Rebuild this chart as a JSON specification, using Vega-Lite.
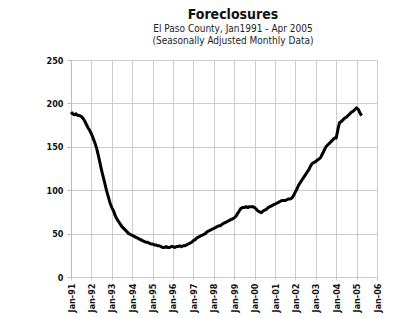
{
  "$schema": "https://vega.github.io/schema/vega-lite/v6.json",
  "autosize": "none",
  "width": 306,
  "height": 217,
  "padding": {"left": 71, "top": 60, "right": 16, "bottom": 41},
  "background": "white",
  "title": {
    "text": "Foreclosures",
    "subtitle": ["El Paso County, Jan1991 - Apr 2005", "(Seasonally Adjusted Monthly Data)"],
    "font": "'DejaVu Sans Condensed', 'Liberation Sans Narrow', sans-serif",
    "fontSize": 14,
    "fontWeight": "bold",
    "color": "#111",
    "subtitleFont": "'DejaVu Sans Condensed', 'Liberation Sans Narrow', sans-serif",
    "subtitleFontSize": 10,
    "subtitleColor": "#222",
    "subtitlePadding": 2,
    "subtitleLineHeight": 12,
    "anchor": "middle",
    "frame": "group",
    "dx": 9,
    "offset": 10
  },
  "data": {
    "values": [
      {"d":"1991-01-01","v":190},{"d":"1991-02-01","v":188},{"d":"1991-03-01","v":187},{"d":"1991-04-01","v":188},{"d":"1991-05-01","v":186},{"d":"1991-06-01","v":186},{"d":"1991-07-01","v":185},{"d":"1991-08-01","v":183},{"d":"1991-09-01","v":180},{"d":"1991-10-01","v":176},{"d":"1991-11-01","v":172},{"d":"1991-12-01","v":169},
      {"d":"1992-01-01","v":165},{"d":"1992-02-01","v":160},{"d":"1992-03-01","v":155},{"d":"1992-04-01","v":149},{"d":"1992-05-01","v":141},{"d":"1992-06-01","v":132},{"d":"1992-07-01","v":123},{"d":"1992-08-01","v":115},{"d":"1992-09-01","v":107},{"d":"1992-10-01","v":99},{"d":"1992-11-01","v":92},{"d":"1992-12-01","v":85},
      {"d":"1993-01-01","v":80},{"d":"1993-02-01","v":76},{"d":"1993-03-01","v":71},{"d":"1993-04-01","v":67},{"d":"1993-05-01","v":64},{"d":"1993-06-01","v":61},{"d":"1993-07-01","v":58},{"d":"1993-08-01","v":56},{"d":"1993-09-01","v":54},{"d":"1993-10-01","v":52},{"d":"1993-11-01","v":50},{"d":"1993-12-01","v":49},
      {"d":"1994-01-01","v":48},{"d":"1994-02-01","v":47},{"d":"1994-03-01","v":46},{"d":"1994-04-01","v":45},{"d":"1994-05-01","v":44},{"d":"1994-06-01","v":43},{"d":"1994-07-01","v":42},{"d":"1994-08-01","v":41},{"d":"1994-09-01","v":40},{"d":"1994-10-01","v":40},{"d":"1994-11-01","v":39},{"d":"1994-12-01","v":38},
      {"d":"1995-01-01","v":38},{"d":"1995-02-01","v":37},{"d":"1995-03-01","v":37},{"d":"1995-04-01","v":36},{"d":"1995-05-01","v":36},{"d":"1995-06-01","v":35},{"d":"1995-07-01","v":34},{"d":"1995-08-01","v":34},{"d":"1995-09-01","v":35},{"d":"1995-10-01","v":34},{"d":"1995-11-01","v":34},{"d":"1995-12-01","v":35},
      {"d":"1996-01-01","v":35},{"d":"1996-02-01","v":34},{"d":"1996-03-01","v":35},{"d":"1996-04-01","v":35},{"d":"1996-05-01","v":36},{"d":"1996-06-01","v":35},{"d":"1996-07-01","v":36},{"d":"1996-08-01","v":36},{"d":"1996-09-01","v":37},{"d":"1996-10-01","v":38},{"d":"1996-11-01","v":39},{"d":"1996-12-01","v":40},
      {"d":"1997-01-01","v":42},{"d":"1997-02-01","v":43},{"d":"1997-03-01","v":45},{"d":"1997-04-01","v":46},{"d":"1997-05-01","v":47},{"d":"1997-06-01","v":48},{"d":"1997-07-01","v":49},{"d":"1997-08-01","v":50},{"d":"1997-09-01","v":52},{"d":"1997-10-01","v":53},{"d":"1997-11-01","v":54},{"d":"1997-12-01","v":55},
      {"d":"1998-01-01","v":56},{"d":"1998-02-01","v":57},{"d":"1998-03-01","v":58},{"d":"1998-04-01","v":59},{"d":"1998-05-01","v":59},{"d":"1998-06-01","v":61},{"d":"1998-07-01","v":62},{"d":"1998-08-01","v":63},{"d":"1998-09-01","v":64},{"d":"1998-10-01","v":65},{"d":"1998-11-01","v":66},{"d":"1998-12-01","v":67},
      {"d":"1999-01-01","v":68},{"d":"1999-02-01","v":70},{"d":"1999-03-01","v":73},{"d":"1999-04-01","v":76},{"d":"1999-05-01","v":79},{"d":"1999-06-01","v":80},{"d":"1999-07-01","v":80},{"d":"1999-08-01","v":81},{"d":"1999-09-01","v":80},{"d":"1999-10-01","v":81},{"d":"1999-11-01","v":81},{"d":"1999-12-01","v":81},
      {"d":"2000-01-01","v":80},{"d":"2000-02-01","v":78},{"d":"2000-03-01","v":76},{"d":"2000-04-01","v":75},{"d":"2000-05-01","v":74},{"d":"2000-06-01","v":76},{"d":"2000-07-01","v":77},{"d":"2000-08-01","v":78},{"d":"2000-09-01","v":80},{"d":"2000-10-01","v":81},{"d":"2000-11-01","v":82},{"d":"2000-12-01","v":83},
      {"d":"2001-01-01","v":84},{"d":"2001-02-01","v":85},{"d":"2001-03-01","v":86},{"d":"2001-04-01","v":87},{"d":"2001-05-01","v":88},{"d":"2001-06-01","v":88},{"d":"2001-07-01","v":88},{"d":"2001-08-01","v":89},{"d":"2001-09-01","v":90},{"d":"2001-10-01","v":90},{"d":"2001-11-01","v":91},{"d":"2001-12-01","v":94},
      {"d":"2002-01-01","v":98},{"d":"2002-02-01","v":102},{"d":"2002-03-01","v":106},{"d":"2002-04-01","v":109},{"d":"2002-05-01","v":112},{"d":"2002-06-01","v":115},{"d":"2002-07-01","v":118},{"d":"2002-08-01","v":121},{"d":"2002-09-01","v":124},{"d":"2002-10-01","v":128},{"d":"2002-11-01","v":131},{"d":"2002-12-01","v":132},
      {"d":"2003-01-01","v":133},{"d":"2003-02-01","v":135},{"d":"2003-03-01","v":136},{"d":"2003-04-01","v":138},{"d":"2003-05-01","v":142},{"d":"2003-06-01","v":146},{"d":"2003-07-01","v":150},{"d":"2003-08-01","v":152},{"d":"2003-09-01","v":154},{"d":"2003-10-01","v":156},{"d":"2003-11-01","v":158},{"d":"2003-12-01","v":160},
      {"d":"2004-01-01","v":160},{"d":"2004-02-01","v":170},{"d":"2004-03-01","v":178},{"d":"2004-04-01","v":179},{"d":"2004-05-01","v":181},{"d":"2004-06-01","v":183},{"d":"2004-07-01","v":184},{"d":"2004-08-01","v":186},{"d":"2004-09-01","v":188},{"d":"2004-10-01","v":190},{"d":"2004-11-01","v":191},{"d":"2004-12-01","v":193},
      {"d":"2005-01-01","v":195},{"d":"2005-02-01","v":193},{"d":"2005-03-01","v":189},{"d":"2005-04-01","v":186}
    ]
  },
  "mark": {"type": "line", "color": "black", "strokeWidth": 3, "strokeJoin": "round"},
  "encoding": {
    "x": {
      "field": "d",
      "type": "temporal",
      "title": null,
      "scale": {"type": "utc", "domain": [{"year": 1991, "month": 1, "date": 1, "utc": true}, {"year": 2006, "month": 1, "date": 1, "utc": true}]},
      "axis": {
        "values": [
          {"year": 1991, "month": 1, "date": 1, "utc": true},
          {"year": 1992, "month": 1, "date": 1, "utc": true},
          {"year": 1993, "month": 1, "date": 1, "utc": true},
          {"year": 1994, "month": 1, "date": 1, "utc": true},
          {"year": 1995, "month": 1, "date": 1, "utc": true},
          {"year": 1996, "month": 1, "date": 1, "utc": true},
          {"year": 1997, "month": 1, "date": 1, "utc": true},
          {"year": 1998, "month": 1, "date": 1, "utc": true},
          {"year": 1999, "month": 1, "date": 1, "utc": true},
          {"year": 2000, "month": 1, "date": 1, "utc": true},
          {"year": 2001, "month": 1, "date": 1, "utc": true},
          {"year": 2002, "month": 1, "date": 1, "utc": true},
          {"year": 2003, "month": 1, "date": 1, "utc": true},
          {"year": 2004, "month": 1, "date": 1, "utc": true},
          {"year": 2005, "month": 1, "date": 1, "utc": true},
          {"year": 2006, "month": 1, "date": 1, "utc": true}
        ],
        "labelExpr": "utcFormat(datum.value, '%b-%y')",
        "labelAngle": -90,
        "labelAlign": "right",
        "labelBaseline": "middle",
        "labelFont": "'DejaVu Sans Condensed', 'Liberation Sans Narrow', sans-serif",
        "labelFontSize": 9,
        "labelFontWeight": "bold",
        "labelColor": "#111",
        "labelPadding": 3,
        "labelOverlap": false,
        "labelFlush": false,
        "grid": true,
        "gridColor": "#cccccc",
        "gridWidth": 1,
        "domain": false,
        "ticks": true,
        "tickSize": 3,
        "tickColor": "#cccccc"
      }
    },
    "y": {
      "field": "v",
      "type": "quantitative",
      "title": null,
      "scale": {"domain": [0, 250], "nice": false},
      "axis": {
        "values": [0, 50, 100, 150, 200, 250],
        "labelFont": "'DejaVu Sans Condensed', 'Liberation Sans Narrow', sans-serif",
        "labelFontSize": 9,
        "labelFontWeight": "bold",
        "labelColor": "#111",
        "labelPadding": 4,
        "grid": true,
        "gridColor": "#cccccc",
        "gridWidth": 1,
        "domain": true,
        "domainColor": "#bbbbbb",
        "ticks": true,
        "tickSize": 4,
        "tickColor": "#bbbbbb"
      }
    }
  },
  "config": {"view": {"stroke": null}}
}
